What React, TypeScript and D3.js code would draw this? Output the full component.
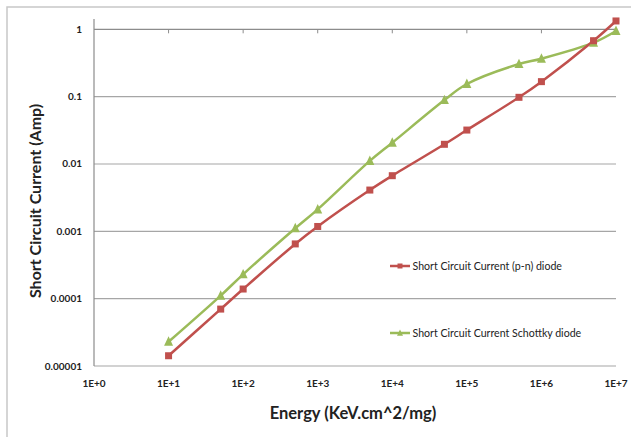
import React from "react";
import * as d3 from "d3";

const energies = [1e1, 5e1, 1e2, 5e2, 1e3, 5e3, 1e4, 5e4, 1e5, 5e5, 1e6, 5e6, 1e7];
const pnCurrent = [1.42e-5, 7.0e-5, 1.39e-4, 6.5e-4, 1.18e-3, 4.1e-3, 6.7e-3, 0.0196, 0.0319, 0.0977, 0.167, 0.677, 1.33];
const schottkyCurrent = [2.29e-5, 1.11e-4, 2.3e-4, 1.11e-3, 2.12e-3, 0.0111, 0.0207, 0.089, 0.154, 0.305, 0.366, 0.633, 0.944];
const xTickValues = [1, 1e1, 1e2, 1e3, 1e4, 1e5, 1e6, 1e7];
const xTickLabels = ["1E+0", "1E+1", "1E+2", "1E+3", "1E+4", "1E+5", "1E+6", "1E+7"];
const yTickValues = [1, 0.1, 0.01, 0.001, 0.0001, 0.00001];
const yTickLabels = ["1", "0.1", "0.01", "0.001", "0.0001", "0.00001"];
const seriesNames = ["Short Circuit Current (p-n) diode", "Short Circuit Current Schottky diode"];

const RED = "#C0504D";
const GREEN = "#9BBB59";
const FONT = "Lato, 'Liberation Sans', sans-serif";

export default function App() {
  const W = 631, H = 437;
  const x = d3.scaleLog().domain([1, 1e7]).range([94, 616]);
  const y = d3.scaleLog().domain([1e-5, 1]).range([366, 29.3]);
  const line = d3
    .line<[number, number]>()
    .x((d) => x(d[0]))
    .y((d) => y(d[1]))
    .curve(d3.curveCatmullRom.alpha(0.5));
  const pn: [number, number][] = energies.map((e, i) => [e, pnCurrent[i]]);
  const sc: [number, number][] = energies.map((e, i) => [e, schottkyCurrent[i]]);
  const tri = (cx: number, cy: number, s: number) =>
    `M${cx},${cy - s * 0.6}L${cx + s / 2},${cy + s * 0.45}L${cx - s / 2},${cy + s * 0.45}Z`;

  return (
    <svg width={W} height={H} style={{ position: "absolute", left: 0, top: 0, background: "#fff" }}>
      <rect x={7} y={7} width={700} height={500} fill="#fff" stroke="#c8c8c8" strokeWidth={1.5} />
      {yTickValues.map((v, i) => (
        <line key={"g" + i} x1={94} x2={616} y1={y(v)} y2={y(v)} stroke={i === 0 ? "#8c8c8c" : "#a6a6a6"} strokeWidth={1.2} />
      ))}
      {xTickValues.slice(1).map((v, i) => (
        <line key={"t" + i} x1={x(v)} x2={x(v)} y1={y(1)} y2={y(1) + 4} stroke="#8c8c8c" strokeWidth={1} />
      ))}
      <line x1={94} x2={94} y1={19} y2={366} stroke="#8c8c8c" strokeWidth={1.2} />
      {yTickValues.map((v, i) => (
        <text key={"yl" + i} x={82} y={y(v)} dy="0.35em" textAnchor="end" fontFamily={FONT} fontWeight="bold" fontSize={10} fill="#222">
          {yTickLabels[i]}
        </text>
      ))}
      {xTickValues.map((v, i) => (
        <text key={"xl" + i} x={x(v)} y={383} dy="0.35em" textAnchor="middle" fontFamily={FONT} fontWeight="bold" fontSize={10} fill="#222">
          {xTickLabels[i]}
        </text>
      ))}
      <path d={line(sc) || ""} fill="none" stroke={GREEN} strokeWidth={2.5} />
      <path d={line(pn) || ""} fill="none" stroke={RED} strokeWidth={2.5} />
      {sc.map((d, i) => (
        <path key={"m2" + i} d={tri(x(d[0]), y(d[1]), 9)} fill={GREEN} />
      ))}
      {pn.map((d, i) => (
        <rect key={"m1" + i} x={x(d[0]) - 3.5} y={y(d[1]) - 3.5} width={7} height={7} fill={RED} />
      ))}
      <line x1={390} x2={410} y1={266} y2={266} stroke={RED} strokeWidth={2.5} />
      <rect x={397.5} y={263.5} width={5} height={5} fill={RED} />
      <text x={412.5} y={266} dy="0.35em" fontFamily={FONT} fontSize={10.6} fill="#222">{seriesNames[0]}</text>
      <line x1={390} x2={410} y1={333} y2={333} stroke={GREEN} strokeWidth={2.5} />
      <path d={tri(400, 333, 6)} fill={GREEN} />
      <text x={412.5} y={333} dy="0.35em" fontFamily={FONT} fontSize={10.6} fill="#222">{seriesNames[1]}</text>
      <text x={353} y={413} dy="0.35em" textAnchor="middle" fontFamily={FONT} fontWeight="bold" fontSize={16.5} fill="#222">
        Energy (KeV.cm^2/mg)
      </text>
      <text transform={`translate(35,201) rotate(-90)`} dy="0.35em" textAnchor="middle" fontFamily={FONT} fontWeight="bold" fontSize={16} fill="#222">
        Short Circuit Current (Amp)
      </text>
    </svg>
  );
}
